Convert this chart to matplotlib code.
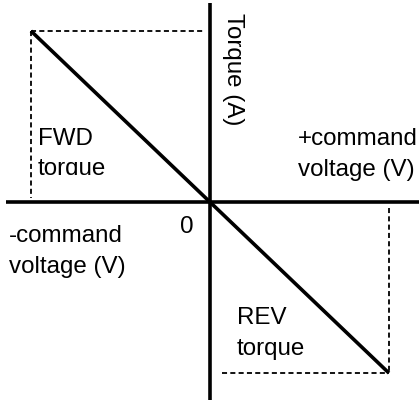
import matplotlib.pyplot as plt
from matplotlib.patches import Rectangle

plt.rcParams['font.family'] = ['Liberation Sans', 'DejaVu Sans']

# command voltage vs torque (normalised)
voltage = [-1.0, 1.0]
torque = [1.0, -1.0]

fig = plt.figure(figsize=(4.19, 4.03), dpi=100)
ax = fig.add_axes([0, 0, 1, 1])
ax.set_xlim(-1.173, 1.168)
ax.set_ylim(-1.175, 1.181)
ax.axis('off')

# axes through the origin
ax.plot([-1.14, 1.2], [0, 0], color='black', lw=2.6, solid_capstyle='butt')
ax.plot([0, 0], [-1.158, 1.164], color='black', lw=2.6, solid_capstyle='butt')

# characteristic line
ax.plot(voltage, torque, color='black', lw=2.6, solid_capstyle='butt')

# dashed guides to the end points
dash = dict(color='black', lw=1.3, linestyle=(0, (2.8, 1.8)))
ax.plot([voltage[0], -0.03], [torque[0], torque[0]], **dash)
ax.plot([voltage[0], voltage[0]], [torque[0], 0.025], **dash)
ax.plot([voltage[1], voltage[1]], [-0.035, torque[1]], **dash)
ax.plot([0.065, voltage[1]], [torque[1], torque[1]], **dash)

fs = 17.4
ls = 1.5
ax.text(0.131, 1.105, 'Torque (A)', rotation=-90, ha='center', va='top', fontsize=fs)
ax.text(0.492, 0.43, '+command\nvoltage (V)', ha='left', va='top', fontsize=fs, linespacing=ls)
# the lower line of this label is cut off in the original
t = ax.text(-0.961, 0.433, 'FWD\ntorque', ha='left', va='top', fontsize=fs,
            linespacing=ls, clip_on=True)
clip = Rectangle((-1.2, 0.158), 2.4, 1.2, transform=ax.transData)
t.set_clip_path(clip)
ax.text(-0.131, -0.08, '0', ha='center', va='top', fontsize=fs)
ax.text(-1.123, -0.135, '-command\nvoltage (V)', ha='left', va='top', fontsize=fs, linespacing=ls)
ax.text(0.151, -0.615, 'REV\ntorque', ha='left', va='top', fontsize=fs, linespacing=ls)

fig.savefig('out.png', dpi=100)
